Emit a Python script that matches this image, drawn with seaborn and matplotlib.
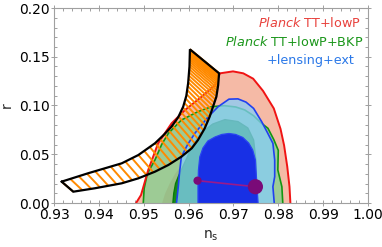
import numpy as np
import seaborn as sns
import matplotlib
matplotlib.use("Agg")
import matplotlib.pyplot as plt
from matplotlib.collections import LineCollection

# contour boundaries (ns, r)
red95_ns = [0.9483, 0.9494, 0.9510, 0.9532, 0.9562, 0.9592, 0.9629, 0.9659, 0.9670, 0.9699,
            0.9722, 0.9744, 0.9766, 0.9790, 0.9805, 0.9813, 0.9820, 0.9825, 0.9827]
red95_r = [0.0, 0.0082, 0.0338, 0.0612, 0.0817, 0.0954, 0.1090, 0.1210, 0.1330, 0.1350,
           0.1330, 0.1275, 0.1150, 0.0970, 0.0760, 0.0590, 0.0373, 0.0167, 0.0]

red68_ns = [0.9541, 0.9548, 0.9558, 0.9570, 0.9590, 0.9615, 0.9650, 0.9690, 0.9730, 0.9745, 0.9750, 0.9752]
red68_r = [0.0, 0.010, 0.020, 0.030, 0.042, 0.052, 0.058, 0.060, 0.055, 0.040, 0.020, 0.0]

green95_ns = [0.9499, 0.9501, 0.9508, 0.9525, 0.9540, 0.9555, 0.9584, 0.9621, 0.9651, 0.9680, 0.9705,
              0.9725, 0.9745, 0.9762, 0.9777, 0.9790, 0.9800, 0.9799, 0.9808, 0.9810]
green95_r = [0.0, 0.015, 0.030, 0.0441, 0.060, 0.0715, 0.0851, 0.0937, 0.0988, 0.0998, 0.0985,
             0.0955, 0.0895, 0.0820, 0.0766, 0.0650, 0.0540, 0.0338, 0.0167, 0.0]

green68_ns = [0.9565, 0.9567, 0.9571, 0.9578, 0.9592, 0.9608, 0.9628, 0.9654, 0.9681, 0.9710, 0.9732,
              0.9745, 0.9750, 0.9751, 0.9752]
green68_r = [0.0, 0.010, 0.020, 0.028, 0.042, 0.058, 0.072, 0.081, 0.0855, 0.0835, 0.077,
             0.0646, 0.0441, 0.0236, 0.0]

blue95_ns = [0.9573, 0.9575, 0.9577, 0.9580, 0.9584, 0.9598, 0.9614, 0.9644, 0.9666, 0.9690, 0.9710,
             0.9728, 0.9745, 0.9763, 0.9776, 0.9788, 0.9792, 0.9792, 0.9788, 0.9791]
blue95_r = [0.0, 0.008, 0.0167, 0.032, 0.0475, 0.060, 0.0715, 0.0885, 0.0988, 0.1065, 0.1068,
            0.1035, 0.097, 0.0834, 0.072, 0.0612, 0.0441, 0.027, 0.0167, 0.0]

blue68_ns = [0.9621, 0.9621, 0.9622, 0.9625, 0.9632, 0.9643, 0.9659, 0.9674, 0.9690, 0.9705, 0.9721,
             0.9734, 0.9743, 0.9749, 0.9751, 0.9753, 0.9755]
blue68_r = [0.0, 0.0185, 0.0338, 0.0472, 0.0564, 0.0636, 0.0677, 0.0703, 0.0713, 0.0703, 0.0672,
            0.0615, 0.0544, 0.0441, 0.0287, 0.0133, 0.0]

# model band (two edges)
upper_ns = [0.9317, 0.9376, 0.9451, 0.9488, 0.9525, 0.9545, 0.9562, 0.9577, 0.9588, 0.9595, 0.9599,
            0.9602, 0.9603]
upper_r = [0.0219, 0.0305, 0.0407, 0.0492, 0.0612, 0.0700, 0.0783, 0.0880, 0.0988, 0.1100, 0.1228,
           0.1400, 0.1576]
lower_ns = [0.9343, 0.9391, 0.9451, 0.9488, 0.9525, 0.9555, 0.9584, 0.9607, 0.9621, 0.9636, 0.9647,
            0.9662, 0.9666, 0.9668]
lower_r = [0.0116, 0.0151, 0.0202, 0.0253, 0.0321, 0.0390, 0.0475, 0.0561, 0.0646, 0.0766, 0.0885,
           0.1090, 0.1210, 0.1330]

# model points
pt_ns = [0.9620, 0.9749]
pt_r = [0.0229, 0.0167]
pt_size = [1, 2]

labels = [r"$\mathit{Planck}$ TT+lowP", r"$\mathit{Planck}$ TT+lowP+BKP", "+lensing+ext"]
label_colors = ["#e8413c", "#1a961a", "#2a78e8"]


def resample(xs, ys, s):
    xs = np.asarray(xs); ys = np.asarray(ys)
    d = np.hypot(np.diff(xs) / 0.01 * 44.9, np.diff(ys) / 0.05 * 48.75)
    c = np.r_[0, np.cumsum(d)]
    c = c / c[-1]
    return np.interp(s, c, xs), np.interp(s, c, ys)


sns.set_style("ticks")
plt.rcParams['font.family'] = ['DejaVu Sans']
plt.rcParams['mathtext.fontset'] = 'dejavusans'

fig = plt.figure(figsize=(3.82, 2.47), dpi=100)
ax = fig.add_axes([54 / 382, 1 - 203 / 247, 314 / 382, 195 / 247])

ax.fill(red95_ns, red95_r, color="#f5baa6", lw=0, zorder=1)
ax.fill(red68_ns, red68_r, color="#ee9a86", lw=0, zorder=1.1)
ax.fill(green95_ns, green95_r, color="#63d78a", alpha=0.6, lw=0, zorder=1.2)
ax.plot(green95_ns, green95_r, color="#129612", lw=1.2, zorder=1.3)
ax.fill(green68_ns, green68_r, color="#168c16", lw=0, zorder=1.4)
ax.plot(green68_ns, green68_r, color="#0a7a0a", lw=1.0, zorder=1.5)
ax.fill(blue95_ns, blue95_r, color="#86cefa", alpha=0.75, lw=0, zorder=1.6)
ax.plot(blue95_ns, blue95_r, color="#2040f0", lw=1.2, zorder=1.7)
ax.fill(blue68_ns, blue68_r, color="#1428e8", alpha=0.95, lw=0, zorder=1.8)
ax.plot(blue68_ns, blue68_r, color="#2a44f2", lw=0.9, zorder=1.9)
ax.plot(red95_ns, red95_r, color="#f01414", lw=1.4, zorder=2)

# hatching across the band, denser towards the top
u = np.linspace(0, 1, 46)
s = 1 - (1 - u) ** 2
ux, uy = resample(upper_ns, upper_r, s)
lx, ly = resample(lower_ns, lower_r, s)
segs = [[(a, b), (c, d)] for a, b, c, d in zip(ux, uy, lx, ly)]
ax.add_collection(LineCollection(segs, colors="#ff8a00", linewidths=1.4, zorder=5))

band_x = np.r_[upper_ns, lower_ns[::-1], upper_ns[0]]
band_y = np.r_[upper_r, lower_r[::-1], upper_r[0]]
ax.plot(band_x, band_y, color="black", lw=1.6, zorder=6, solid_joinstyle='miter')

sns.lineplot(x=pt_ns, y=pt_r, color="#9a1a8a", lw=1.2, ax=ax, zorder=7)
sns.scatterplot(x=pt_ns, y=pt_r, size=pt_size, sizes=(35, 120), color="#7a0a78",
                linewidth=0, legend=False, ax=ax, zorder=8)

ax.text(0.9985, 0.1843, labels[0], color=label_colors[0], fontsize=9.2, ha="right", va="center")
ax.text(0.9989, 0.1649, labels[1], color=label_colors[1], fontsize=9.2, ha="right", va="center")
ax.text(0.9969, 0.1462, labels[2], color=label_colors[2], fontsize=9.2, ha="right", va="center")

ax.set_xlim(0.93, 1.00)
ax.set_ylim(0, 0.20)
ax.set_xticks(np.arange(0.93, 1.001, 0.01))
ax.set_xticks(np.arange(0.93, 1.001, 0.002), minor=True)
ax.set_yticks(np.arange(0, 0.201, 0.05))
ax.set_yticks(np.arange(0, 0.201, 0.01), minor=True)
ax.xaxis.set_major_formatter(matplotlib.ticker.FormatStrFormatter("%.2f"))
ax.yaxis.set_major_formatter(matplotlib.ticker.FormatStrFormatter("%.2f"))
for sp in ax.spines.values():
    sp.set_visible(True)
    sp.set_color("#a0a0a0")
    sp.set_linewidth(0.8)
ax.tick_params(which="both", top=True, right=True, color="#a0a0a0", labelsize=10,
               labelcolor="black", width=0.7)
ax.tick_params(which="major", direction="inout", length=5, pad=1)
ax.tick_params(axis="y", which="major", pad=0.5)
ax.tick_params(which="minor", direction="in", length=2.5)
ax.set_xlabel(r"$\mathregular{n_s}$", fontsize=10, labelpad=5)
ax.set_ylabel("r", fontsize=10, labelpad=4)

fig.savefig("out.png", dpi=100)
